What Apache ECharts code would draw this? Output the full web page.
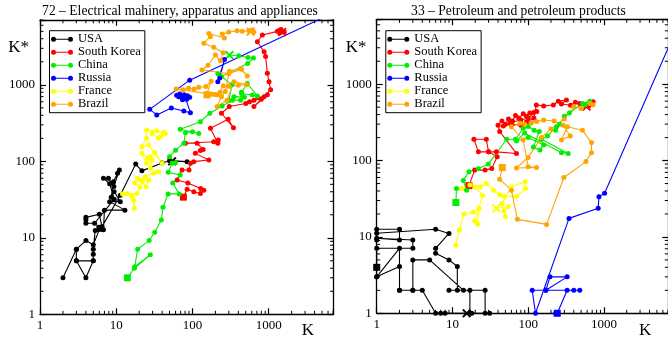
<!DOCTYPE html>
<html>
<head>
<meta charset="utf-8">
<script src="https://cdn.jsdelivr.net/npm/echarts@6/dist/echarts.min.js"></script>
<style>
  html, body { margin: 0; padding: 0; background: #fff; }
  #chart { width: 668px; height: 341px; }
</style>
</head>
<body>
<div id="chart"></div>
<script>
// ---- categories, labels ----
const countries = ['USA', 'South Korea', 'China', 'Russia', 'France', 'Brazil'];
const panelTitles = ['72 \u2013 Electrical mahinery, apparatus and appliances', '33 \u2013 Petroleum and petroleum products'];
const tickLabels = [1, 10, 100, 1000];
const minorTicks = [2, 3, 4, 5, 6, 7, 8, 9, 20, 30, 40, 50, 60, 70, 80, 90,
  200, 300, 400, 500, 600, 700, 800, 900, 2000, 3000, 4000, 5000, 6000, 7000];

// ---- panel 72: trajectories [K, K*] ----
const usaLeft = [[6.1,13.3],[5,8.1],[4,9.2],[3,7.1],[2,3],[3,7.1],[3,5],[4,3],[5,5],[3,5],[5,5],[5,6.1],[5,7.1],
  [5.3,12.5],[6.8,12.7],[7,23],[13,23],[8.2,29.7],[11.3,29.7],[9.4,40],[8.6,34],[9.2,54],[10.4,70],[11,77],
  [9.3,47],[7.9,60],[6.8,60],[8.2,51],[9.4,32],[5.2,15.5],[4,15.5],[4,17.2],[4,18.5],[6,20.3],[6.5,14],
  [11.3,36],[18,92],[21.7,75],[40,95],[50,102],[85,99],[54,100]];
const koreaLeft = [[76,34],[85,43],[104,40],[127,38],[141,42],[128,44],[87,52],[63,57],[73,77],[90,77],[94,94],
  [104,99],[164,104],[109,127],[127,138],[138,143],[115,172],[81,172],[190,180],[218,190],[215,172],[172,270],
  [294,354],[345,275],[240,425],[304,520],[500,570],[560,600],[640,630],[720,680],[870,700],[960,740],[640,520],
  [800,650],[1060,860],[1010,1100],[960,1420],[910,2340],[870,2700],[710,3660],[826,4480],[1300,5000],
  [1450,5300],[1600,4900],[1400,4750],[1500,4920]];
const chinaLeft = [[14,3],[17.3,4],[28,6],[17.5,4.2],[19.1,7.1],[27,9.2],[32,11.8],[39,17.1],[41,25],[48,37.5],
  [67,37.5],[55,52],[69,66],[48,72],[54,94],[60,96],[50,115],[60,140],[77,172],[81,237],[100,244],[121,231],
  [69,262],[127,330],[169,425],[245,530],[334,630],[427,630],[440,770],[610,735],[710,715],[524,1040],[440,800],
  [480,690],[350,700],[300,620],[330,1000],[215,1400],[240,1280],[530,1900],[630,2250],[534,2270],[405,2400],[305,2450]];
const russiaLeft = [[72,690],[66,700],[62,730],[68,760],[78,740],[86,720],[92,690],[84,650],[74,640],[80,700],
  [94,430],[77,455],[52.8,498],[34,404],[27.5,478],[92,1150],[30000,17200]];
const russiaLeftB = [[215,1100],[263,2140],[228,1230]];
const franceLeft = [[17,31],[17.3,24.3],[16,35],[12.1,37.5],[13.8,38],[18.7,38],[20.6,46.6],[17.5,52],[19,60],
  [24.8,46.6],[26.6,57],[22,55],[20.7,57],[24,63],[31,70],[36,73],[28,82],[29.5,104],[25,94],[21.7,127],[26,110],
  [28,115],[32,130],[40,94],[26.6,163],[21.7,155],[25,200],[25,256],[34,250],[44,231],[38,210],[42,240],[36,200],[29.5,231]];
const brazilLeft = [[155,740],[170,760],[195,745],[61,880],[75,860],[89,900],[105,880],[121,930],[150,950],[176,1110],
  [155,770],[180,750],[210,740],[230,800],[253,970],[300,960],[400,990],[516,1000],[350,1100],[284,630],[211,520],
  [240,700],[270,820],[305,1510],[427,1630],[524,1300],[440,1600],[300,1400],[133,1560],[160,1800],
  [200,2460],[233,2060],[253,2630],[190,3100],[141,3500],[172,4260],[164,4700],[262,4100],[245,4600],[300,4900],
  [385,5100],[450,5000],[550,5100],[640,4920],[600,5200],[580,4950]];

// ---- panel 33: trajectories [K, K*] ----
const usaRight = [[1,4],[1,3],[2,4.1],[2,2],[3,2],[2,2],[2,7.1],[1,3],[1,7.1],[3,7.1],[3,9.1],[1,9.6],[1,9.1],
  [2,9.1],[2,12.6],[1,12.6],[1,11.2],[6,12.6],[9,11.1],[6,7.1],[6,6.1],[9,5],[11.6,4.1],[11.6,2],[9,2],[17,2],
  [17,1],[8,1],[7,1],[6,1],[4,2],[3,2],[3,5],[5,5],[14,2],[27,2],[27,1],[31,1],[18,1],[15.4,1]];
const koreaRight = [[16.5,47],[19.7,75],[27,75],[33,79],[39,112],[30,130],[22,130],[19.2,190],[28,190],[30,130],
  [38,130],[70,124],[42,240],[40,290],[45,330],[50,300],[55,350],[62,330],[68,390],[75,360],[86,410],[95,380],
  [105,420],[119,430],[130,440],[100,360],[80,340],[58,313],[47,283],[60,300],[80,290],[95,320],[119,360],
  [128,535],[160,520],[215,535],[250,600],[320,620],[275,550],[362,530],[420,580],[480,560],[720,590],[630,520],[590,510]];
const chinaRight = [[11.1,28.2],[11.3,43],[15.4,41],[13.9,55],[16.5,71.5],[22,78],[29.8,90],[52,190],[68,190],
  [86,265],[100,280],[120,250],[140,240],[117,150],[143,138],[160,160],[100,200],[70,180],[90,230],[275,127],
  [337,124],[150,190],[180,210],[237,278],[260,300],[230,250],[300,380],[350,420],[520,560],[650,600],[560,540]];
const russiaRight = [[242,1],[230,1],[327,2],[480,2],[400,2],[171,2],[194,3],[327,3],[171,2],[113,2],[125,1],
  [346,17.5],[840,23.7],[860,33.7],[1020,37.3],[10000,6600]];
const franceRight = [[11,7.8],[12.3,12.3],[14.2,19.8],[18.8,21],[22.4,23.7],[19.6,16.2],[21.6,14.8],[22.4,23.7],
  [25,35],[20,45],[13.2,43],[17,48],[23.5,45.5],[28,50],[35,41],[42,35.6],[48,34],[70,33.8],[92,43],[91,53],
  [60,45],[45,27.5],[50,18.5],[48,22],[55,25],[38,23.7]];
const brazilRight = [[45.5,81],[42,57],[60,41],[72,17],[175,14.6],[296,60],[580,97],[685,127],[685,172],[520,250],
  [330,278],[275,186],[360,210],[290,290],[220,330],[160,340],[129,324],[110,310],[90,300],[78,307],[60,278],
  [86,186],[100,83],[129,81],[70,80],[100,110],[150,200],[200,260],[300,350],[400,510],[500,480],[650,560],[720,540]];

const leftSets = [usaLeft, koreaLeft, chinaLeft, russiaLeft, franceLeft, brazilLeft];
const rightSets = [usaRight, koreaRight, chinaRight, russiaRight, franceRight, brazilRight];

// ---- styling ----
const colors = ['#000000', '#ff0000', '#00ee00', '#0000ff', '#ffff00', '#ffa500'];
const SERIF = '"Liberation Serif", "DejaVu Serif", serif';
const AX_MIN = 1, AX_MAX = 7079;
// first point drawn as a square, last one as a cross
const leftMarks = [[true, true], [true, true], [true, true], [false, false], [false, false], [true, true]];
const rightMarks = [[true, true], [true, true], [true, false], [true, false], [false, true], [true, false]];
const CROSS = 'path://M0,1.5L1.5,0L5,3.5L8.5,0L10,1.5L6.5,5L10,8.5L8.5,10L5,6.5L1.5,10L0,8.5L3.5,5Z';
const LEGEND_ICON = 'path://M2.5,0A2.5,2.5,0,1,1,2.5,5A2.5,2.5,0,1,1,2.5,0ZM2.5,2L19.5,2L19.5,3L2.5,3ZM19.5,0A2.5,2.5,0,1,1,19.5,5A2.5,2.5,0,1,1,19.5,0Z';

function lineSeries(name, pts, color, axisIdx, marks) {
  const data = pts.map((p, i) => {
    if (i === 0 && marks[0]) return { value: p, symbol: 'rect', symbolSize: 7 };
    if (i === pts.length - 1 && marks[1]) return { value: p, symbol: CROSS, symbolSize: 9 };
    return p;
  });
  return {
    type: 'line', name, data, xAxisIndex: axisIdx, yAxisIndex: axisIdx,
    symbol: 'circle', symbolSize: 5, showSymbol: true, clip: true,
    lineStyle: { color, width: 1.1 }, itemStyle: { color, borderWidth: 0 },
    emphasis: { disabled: true }, animation: false
  };
}

function minorTickSeries(axisIdx) {
  return {
    type: 'custom', xAxisIndex: axisIdx, yAxisIndex: axisIdx, silent: true, clip: false, animation: false,
    data: minorTicks.map(v => [v, v]),
    renderItem: (params, api) => {
      const v = api.value(0);
      const b = api.coord([v, AX_MIN]), t = api.coord([v, AX_MAX]);
      const l = api.coord([AX_MIN, v]), r = api.coord([AX_MAX, v]);
      const s = { stroke: '#000', lineWidth: 1 };
      return { type: 'group', children: [
        { type: 'line', shape: { x1: b[0], y1: b[1], x2: b[0], y2: b[1] - 3.5 }, style: s },
        { type: 'line', shape: { x1: t[0], y1: t[1], x2: t[0], y2: t[1] + 3.5 }, style: s },
        { type: 'line', shape: { x1: l[0], y1: l[1], x2: l[0] + 3.5, y2: l[1] }, style: s },
        { type: 'line', shape: { x1: r[0], y1: r[1], x2: r[0] - 3.5, y2: r[1] }, style: s }
      ]};
    }
  };
}

function logAxis(gridIndex, position, showLabels) {
  return {
    type: 'log', logBase: 10, gridIndex, position, min: AX_MIN, max: AX_MAX,
    axisLine: { show: true, onZero: false, lineStyle: { color: '#000', width: 1.3 } },
    axisTick: { show: true, inside: true, length: 6, lineStyle: { color: '#000', width: 1.2 } },
    minorTick: { show: false }, splitLine: { show: false },
    axisLabel: {
      show: showLabels, color: '#000', fontFamily: SERIF, fontSize: 13, margin: 5,
      showMinLabel: true, showMaxLabel: true,
      formatter: v => (tickLabels.some(t => Math.abs(t - v) < 1e-6 * t) ? String(Math.round(v)) : '')
    }
  };
}

const series = [];
leftSets.forEach((pts, i) => series.push(lineSeries(countries[i], pts, colors[i], 0, leftMarks[i])));
series.splice(4, 0, lineSeries('Russia', russiaLeftB, colors[3], 0, [false, false]));
rightSets.forEach((pts, i) => series.push(lineSeries(countries[i], pts, colors[i], 2, rightMarks[i])));
series.push(minorTickSeries(0), minorTickSeries(2));

function legendAt(left) {
  return {
    data: countries, orient: 'vertical', left, top: 30.7,
    padding: [2, 4, 2, 1.5], itemGap: 0, itemWidth: 22, itemHeight: 5, icon: LEGEND_ICON,
    borderColor: '#000', borderWidth: 1, backgroundColor: '#fff', selectedMode: false,
    itemStyle: { borderWidth: 0 },
    textStyle: { fontFamily: SERIF, fontSize: 12.5, color: '#000', lineHeight: 12.2 }
  };
}

function label(text, x, y, size, align) {
  return {
    type: 'text', x, y, silent: true,
    style: { text, font: size + 'px ' + SERIF, fill: '#000',
      align, verticalAlign: 'middle', textAlign: align, textVerticalAlign: 'middle' }
  };
}

const chart = echarts.init(document.getElementById('chart'), null, { renderer: 'canvas' });
chart.setOption({
  backgroundColor: '#fff',
  animation: false,
  grid: [
    { left: 40, top: 19.8, width: 293.5, height: 294.5, outerBoundsMode: 'none', containLabel: false },
    { left: 376.7, top: 19.3, width: 291.6, height: 294, outerBoundsMode: 'none', containLabel: false }
  ],
  xAxis: [logAxis(0, 'bottom', true), logAxis(0, 'top', false), logAxis(1, 'bottom', true), logAxis(1, 'top', false)],
  yAxis: [logAxis(0, 'left', true), logAxis(0, 'right', false), logAxis(1, 'left', true), logAxis(1, 'right', false)],
  legend: [legendAt(49.5), legendAt(385.8)],
  graphic: [
    label(panelTitles[0], 180, 11.5, 13.6, 'center'),
    label(panelTitles[1], 518.5, 11.5, 13.6, 'center'),
    label('K*', 8.3, 47.5, 17, 'left'),
    label('K*', 345.7, 47.5, 17, 'left'),
    label('K', 301.7, 330.5, 17, 'left'),
    label('K', 639, 330.5, 17, 'left')
  ],
  series
});
</script>
</body>
</html>
